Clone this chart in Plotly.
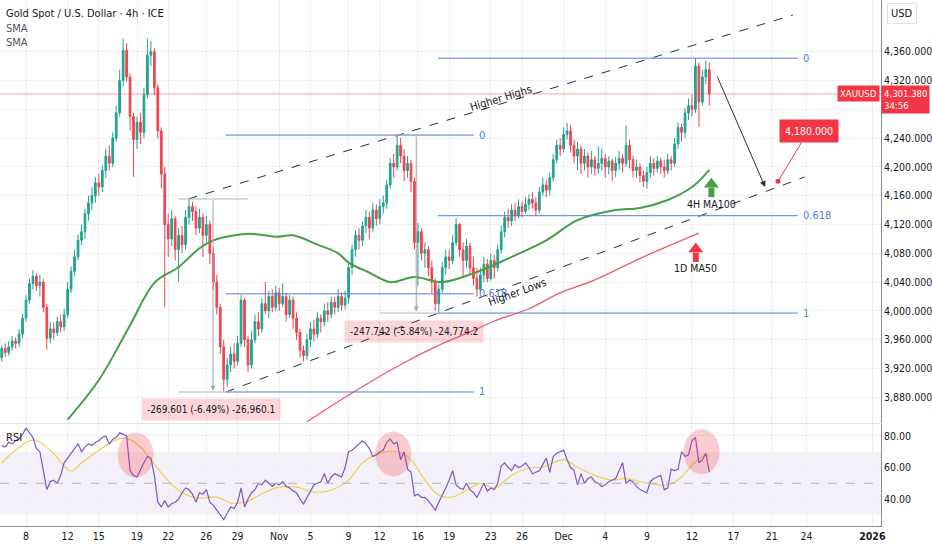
import plotly.graph_objects as go
from plotly.subplots import make_subplots

# ---- XAUUSD 4h candles (x = bar index, weekends removed), open = previous close ----
first_open = 3935
closes = [3948, 3942, 3950, 3958, 3955, 3968, 3990, 4015, 4038, 4048,
          4035, 4040, 4005, 3962, 3975, 3970, 3985, 3978, 3995, 4030,
          4055, 4075, 4098, 4110, 4135, 4150, 4160, 4178, 4172, 4195,
          4215, 4205, 4240, 4275, 4320, 4362, 4325, 4270, 4238, 4262,
          4248, 4300, 4355, 4360, 4310, 4250, 4190, 4120, 4100, 4128,
          4085, 4105, 4092, 4130, 4145, 4138, 4115, 4130, 4105, 4120,
          4080, 4040, 4005, 3950, 3905, 3925, 3940, 3930, 3955, 4015,
          3960, 3925, 3960, 3985, 3975, 4010, 4000, 4020, 4005, 4025,
          4010, 4020, 3995, 4015, 3990, 3970, 3945, 3938, 3960, 3975,
          3968, 3990, 3985, 4000, 3995, 4012, 4005, 4020, 4008, 4018,
          4060, 4085, 4105, 4098, 4118, 4130, 4115, 4140, 4128, 4145,
          4150, 4175, 4205, 4200, 4230, 4215, 4195, 4205, 4180, 4095,
          4110, 4080, 4085, 4060, 4040, 4010, 4030, 4060, 4075, 4070,
          4095, 4120, 4085, 4070, 4090, 4060, 4045, 4030, 4050, 4065,
          4045, 4070, 4060, 4085, 4110, 4130, 4125, 4140, 4132, 4145,
          4138, 4148, 4155, 4150, 4140, 4165, 4175, 4168, 4185, 4210,
          4230, 4225, 4245, 4250, 4230, 4215, 4225, 4205, 4215, 4200,
          4210, 4198, 4205, 4212, 4200, 4208, 4195, 4205, 4212, 4205,
          4230, 4210, 4195, 4200, 4188, 4180, 4192, 4205, 4198, 4208,
          4200, 4195, 4210, 4205, 4232, 4255, 4248, 4275, 4285, 4280,
          4340, 4290, 4325, 4335, 4301.38]
highs = [3952, 3955, 3958, 3965, 3963, 3975, 3996, 4022, 4045, 4057,
         4052, 4050, 4044, 4010, 3985, 3984, 3992, 3995, 4003, 4040,
         4062, 4085, 4106, 4120, 4142, 4160, 4172, 4186, 4190, 4202,
         4225, 4230, 4248, 4285, 4335, 4378, 4372, 4330, 4275, 4270,
         4275, 4310, 4378, 4375, 4365, 4315, 4255, 4200, 4135, 4140,
         4132, 4115, 4118, 4140, 4154, 4152, 4145, 4142, 4135, 4132,
         4125, 4088, 4050, 4010, 3960, 3935, 3950, 3955, 3965, 4022,
         4018, 3965, 3972, 3995, 3998, 4018, 4040, 4028, 4030, 4035,
         4032, 4038, 4025, 4022, 4020, 3998, 3975, 3952, 3968, 3985,
         3988, 3998, 3995, 4010, 4012, 4020, 4020, 4030, 4026, 4028,
         4068, 4092, 4112, 4115, 4124, 4140, 4138, 4150, 4148, 4155,
         4160, 4182, 4212, 4218, 4244, 4240, 4225, 4215, 4210, 4185,
         4122, 4115, 4095, 4090, 4070, 4045, 4038, 4068, 4085, 4085,
         4105, 4129, 4122, 4095, 4100, 4095, 4075, 4060, 4060, 4075,
         4072, 4080, 4078, 4092, 4118, 4138, 4142, 4148, 4150, 4155,
         4152, 4158, 4162, 4165, 4158, 4172, 4185, 4182, 4192, 4218,
         4238, 4240, 4255, 4261, 4258, 4238, 4235, 4230, 4225, 4220,
         4222, 4215, 4228, 4225, 4218, 4215, 4212, 4214, 4222, 4218,
         4258, 4238, 4215, 4210, 4205, 4195, 4200, 4215, 4212, 4215,
         4213, 4210, 4218, 4215, 4240, 4262, 4260, 4282, 4295, 4300,
         4351, 4345, 4335, 4348, 4345]
lows = [3930, 3936, 3938, 3945, 3948, 3950, 3962, 3985, 4010, 4030,
        4028, 4020, 3998, 3946, 3955, 3960, 3965, 3970, 3972, 3990,
        4025, 4048, 4070, 4092, 4100, 4125, 4140, 4150, 4160, 4165,
        4185, 4195, 4200, 4235, 4270, 4312, 4318, 4250, 4186, 4225,
        4232, 4240, 4295, 4340, 4300, 4240, 4170, 4005, 4075, 4090,
        4070, 4040, 4080, 4085, 4120, 4125, 4105, 4108, 4075, 4095,
        4065, 4030, 3995, 3940, 3888, 3895, 3915, 3920, 3925, 3950,
        3950, 3915, 3920, 3955, 3965, 3970, 3995, 3990, 3998, 4000,
        4000, 4005, 3985, 3990, 3975, 3960, 3935, 3930, 3932, 3950,
        3958, 3962, 3970, 3978, 3985, 3990, 3995, 3998, 4000, 4002,
        4010, 4050, 4075, 4085, 4090, 4108, 4100, 4110, 4118, 4120,
        4135, 4142, 4170, 4185, 4195, 4205, 4180, 4185, 4165, 4085,
        4035, 4070, 4060, 4048, 4025, 4000, 3997, 4025, 4050, 4058,
        4065, 4090, 4075, 4048, 4060, 4050, 4035, 4020, 4025, 4040,
        4040, 4042, 4045, 4055, 4080, 4102, 4115, 4118, 4125, 4128,
        4130, 4135, 4140, 4142, 4132, 4135, 4160, 4158, 4160, 4180,
        4205, 4215, 4220, 4238, 4220, 4205, 4195, 4190, 4195, 4185,
        4190, 4188, 4190, 4195, 4185, 4190, 4180, 4186, 4195, 4192,
        4200, 4198, 4185, 4185, 4178, 4172, 4170, 4185, 4188, 4192,
        4190, 4185, 4190, 4195, 4200, 4225, 4235, 4240, 4265, 4270,
        4275, 4255, 4285, 4315, 4285]
opens = [first_open] + closes[:-1]

# RSI(14) per bar and its smoothing MA (sampled)
rsi = [74, 73, 76, 75, 77, 78, 81, 85, 82, 79,
       72, 70, 58, 46, 51, 52, 50, 55, 63, 66,
       69, 72, 75, 70, 73, 75, 74, 76, 77, 79,
       80, 75, 78, 79, 82, 81, 80, 58, 55, 54,
       59, 63, 67, 66, 55, 38, 35, 39, 35, 37,
       38, 40, 44, 47, 46, 43, 38, 44, 43, 46,
       38, 36, 33, 30, 27, 31, 35, 34, 38, 47,
       35, 40, 44, 46, 50, 49, 52, 50, 48, 50,
       49, 51, 48, 47, 45, 44, 40, 37, 41, 45,
       49, 50, 51, 56, 50, 54, 56, 55, 54, 60,
       70, 71, 73, 75, 77, 75, 72, 67, 68, 70,
       71, 76, 78, 75, 76, 65, 70, 59, 57, 42,
       43, 41, 41, 39, 36, 33, 38, 42, 47, 52,
       58, 49, 47, 46, 50, 46, 44, 41, 46, 50,
       45, 47, 46, 50, 61, 63, 60, 58, 62, 60,
       61, 63, 60, 56, 57, 58, 62, 66, 57, 67,
       69, 70, 71, 65, 60, 58, 49, 56, 50, 53,
       54, 51, 50, 48, 49, 51, 52, 53, 58, 63,
       50, 52, 51, 48, 46, 45, 44, 51, 53, 54,
       55, 46, 47, 59, 58, 59, 70, 67, 68, 77,
       79, 63, 65, 69, 57]
rsi_ma_bars = [0, 4, 9, 14, 20, 23, 28, 33, 36, 40, 43, 47, 52, 57, 62, 66, 70, 76, 80, 85,
               90, 95, 100, 104, 109, 114, 118, 122, 126, 130, 133, 138, 142, 147, 152, 156,
               162, 166, 171, 176, 180, 185, 192, 196, 199, 203, 204]
rsi_ma = [63, 71, 77.5, 71, 57.8, 63, 71, 77.5, 78.7, 73, 65, 54, 44, 40.6, 41.3, 37.5, 38, 44.4,
          47.6, 47.6, 44.4, 45.7, 52, 63, 69, 70, 65, 52, 42.5, 41.3, 44.4, 50, 47, 55, 59.7,
          60.3, 65, 60.3, 55, 52, 53, 50.6, 48.9, 54, 61.6, 68, 67]

# moving averages (sampled)
ma100_bars = [19, 28, 37, 44, 51, 57, 61, 66, 72, 79, 84, 91, 97, 100, 106, 112, 119, 127,
              137, 147, 157, 166, 177, 184, 192, 199, 204]
ma100 = [3849, 3904, 3980, 4039, 4061, 4087, 4098, 4104, 4107, 4103, 4105, 4092, 4080, 4067,
         4053, 4040, 4047, 4040, 4054, 4075, 4098, 4126, 4140, 4143, 4154, 4172, 4196]
ma50_bars = [88, 101, 116, 125, 137, 142, 152, 161, 171, 185, 201]
ma50 = [3846, 3886, 3928, 3950, 3975, 3986, 4003, 4025, 4043, 4075, 4108]

# x axis labels (bar index of first bar of the day)
tick_bars = [7, 19, 28, 39, 48, 59, 68, 80, 89, 100, 109, 120, 129, 141, 150, 162, 174, 186,
             199, 211, 222, 232, 251]
tick_labels = ['8', '12', '15', '19', '22', '26', '29', 'Nov', '5', '9', '12', '16', '19',
               '23', '26', 'Dec', '4', '9', '12', '17', '21', '24', '<b>2026</b>']
price_ticks = [3880, 3920, 3960, 4000, 4040, 4080, 4120, 4160, 4200, 4240, 4320, 4360]
hidden_price_ticks = [4280]
rsi_ticks = [40, 60, 80]

last_price = 4301.38
target_bar, target_price = 223.8, 4180

# drawings: channel (bar, price), fib (start, end, level 0, level 1), measures
upper_line = ([53.8, 228.1], [4155.4, 4411])
lower_line = ([64.6, 231.5], [3887.4, 4186])
fibs = [(64.6, 136.1, 4244.2, 3887.4), (125.8, 229.5, 4351, 3997)]
fib_levels = [0, 0.618, 1]
measures = [(60.9, 51, 71, 4155.4, 3887.4, '-269.601 (-6.49%) -26,960.1'),
            (119.5, 109, 126, 4244.2, 3997, '-247.742 (-5.84%) -24,774.2')]
rsi_circles = [(38.6, 67.9), (112.9, 68.6), (201.8, 70)]
# MA callouts: bar, arrow tail, arrow head, label price, text, colour
callouts = [(204.6, 4158, 4176, 4149, '4H MA100', '#43a047'),
            (200.1, 4068, 4086, 4059, '1D MA50', '#f23645')]

FONT = 'Liberation Sans Narrow, DejaVu Sans Condensed, Roboto'
TXT = '#131722'
GRID = '#eef0f4'
BLUE = '#4f7fdc'

fig = make_subplots(rows=2, cols=1, shared_xaxes=True, vertical_spacing=0.002)

bars = list(range(len(closes)))
fig.add_trace(go.Candlestick(x=bars, open=opens, high=highs, low=lows, close=closes,
                             increasing=dict(line=dict(color='#1fa38f', width=1), fillcolor='#1fa38f'),
                             decreasing=dict(line=dict(color='#f2434f', width=1), fillcolor='#f2434f'),
                             whiskerwidth=0, showlegend=False), row=1, col=1)
fig.add_scatter(x=ma100_bars, y=ma100, mode='lines', line=dict(color='#43a047', width=2, shape='spline'),
                showlegend=False, row=1, col=1)
fig.add_scatter(x=ma50_bars, y=ma50, mode='lines', line=dict(color='#ee5b6b', width=1.3, shape='spline'),
                showlegend=False, row=1, col=1)
for xs, ys in (upper_line, lower_line):
    fig.add_scatter(x=xs, y=ys, mode='lines', line=dict(color='#2a2e39', width=1, dash='dash'),
                    showlegend=False, row=1, col=1)
fig.add_scatter(x=[target_bar], y=[target_price], mode='markers', marker=dict(color='#f23645', size=5),
                showlegend=False, row=1, col=1)

# MA callout arrows (shaft + head) and labels
for xb, tail, head, lab_y, lab, col in callouts:
    fig.add_shape(type='line', xref='x', yref='y', x0=xb, x1=xb, y0=tail, y1=head - 5,
                  line=dict(color=col, width=6))
    fig.add_scatter(x=[xb], y=[head], mode='markers', marker=dict(symbol='triangle-up', size=13, color=col),
                    showlegend=False, row=1, col=1)
    fig.add_annotation(x=xb, y=lab_y, xref='x', yref='y', text=lab, showarrow=False,
                       font=dict(color=TXT, size=10.5, family=FONT))

# RSI pane
fig.add_shape(type='rect', xref='x2', yref='y2', x0=-0.5, x1=253.5, y0=30, y1=70,
              fillcolor='rgba(126,87,194,0.09)', line_width=0, layer='below')
fig.add_shape(type='line', xref='x2', yref='y2', x0=-0.5, x1=253.5, y0=50, y1=50,
              line=dict(color='#b2b5be', width=1, dash='dash'))
for cx, cy in rsi_circles:
    fig.add_shape(type='circle', xref='x2', yref='y2', x0=cx - 5.2, x1=cx + 5.2, y0=cy - 14.3, y1=cy + 14.3,
                  fillcolor='rgba(242,54,69,0.25)', line_width=0)
fig.add_scatter(x=rsi_ma_bars, y=rsi_ma, mode='lines', line=dict(color='#f2d04e', width=1.2, shape='spline'),
                showlegend=False, row=2, col=1)
fig.add_scatter(x=bars, y=rsi, mode='lines', line=dict(color='#7e57c2', width=1.2),
                showlegend=False, row=2, col=1)

# last price line
fig.add_shape(type='line', xref='x', yref='y', x0=-0.5, x1=253.5, y0=last_price, y1=last_price,
              line=dict(color='rgba(242,54,69,0.45)', width=1))

# fib retracements
for x0, x1, p0, p1 in fibs:
    for lvl in fib_levels:
        p = p0 + (p1 - p0) * lvl
        fig.add_shape(type='line', xref='x', yref='y', x0=x0, x1=x1, y0=p, y1=p,
                      line=dict(color=BLUE, width=1))
        fig.add_annotation(x=x1 + 1, y=p, xref='x', yref='y', text=f'{lvl:g}', showarrow=False,
                           xanchor='left', font=dict(color=BLUE, size=11, family=FONT))

# measurement tools
for xm, xa, xb, top, bot, label in measures:
    for p in (top, bot):
        fig.add_shape(type='line', xref='x', yref='y', x0=xa, x1=xb, y0=p, y1=p,
                      line=dict(color='#b2b5be', width=1))
    fig.add_annotation(x=xm, y=bot + 2, ax=xm, ay=top, xref='x', yref='y', axref='x', ayref='y',
                       text='', showarrow=True, arrowhead=2, arrowsize=1, arrowwidth=1, arrowcolor='#a3a6af')
    fig.add_annotation(x=xm - 0.5, y=bot, xref='x', yref='y', yshift=-18, text=label, showarrow=False,
                       bgcolor='rgba(242,54,69,0.2)', borderpad=5,
                       font=dict(color=TXT, size=10, family=FONT))

# channel labels
fig.add_annotation(x=143.8, y=4295, xref='x', yref='y', text='Higher Highs', textangle=-17, showarrow=False,
                   font=dict(color=TXT, size=11, family=FONT))
fig.add_annotation(x=148.6, y=4026, xref='x', yref='y', text='Higher Lows', textangle=-20, showarrow=False,
                   font=dict(color=TXT, size=11, family=FONT))

# projection arrow and target
fig.add_annotation(x=220.1, y=4172, ax=206.1, ay=4327.6, xref='x', yref='y', axref='x', ayref='y',
                   text='', showarrow=True, arrowhead=2, arrowsize=1.2, arrowwidth=1, arrowcolor='#2a2e39')
fig.add_annotation(x=target_bar, y=target_price, ax=232.6, ay=4250, xref='x', yref='y', axref='x', ayref='y',
                   text=f'{target_price:,.3f}', showarrow=True, arrowhead=0, arrowwidth=1, arrowcolor='#f23645',
                   bgcolor='#f23645', borderpad=5, font=dict(color='white', size=10.5, family=FONT))

# header and axis labels
for i, (txt, col) in enumerate([('Gold Spot / U.S. Dollar · 4h · ICE', TXT), ('SMA', '#50535e'), ('SMA', '#50535e')]):
    fig.add_annotation(x=0.005, y=0.9734 - i * 0.0275, xref='paper', yref='paper', text=txt, showarrow=False,
                       xanchor='left', yanchor='middle', font=dict(color=col, size=11, family=FONT))
fig.add_annotation(x=0.005, y=0.169, xref='paper', yref='paper', text='RSI', showarrow=False,
                   xanchor='left', yanchor='middle', font=dict(color=TXT, size=11, family=FONT))
fig.add_annotation(x=1.007, y=0.9734, xref='paper', yref='paper', text='USD', showarrow=False,
                   xanchor='left', yanchor='middle', font=dict(color=TXT, size=11, family=FONT),
                   bordercolor='#e0e3eb', borderwidth=1, borderpad=3)
fig.add_annotation(x=0.999, y=last_price, xref='paper', yref='y', text='XAUUSD', showarrow=False,
                   xanchor='right', bgcolor='#f23645', borderpad=2, font=dict(color='white', size=9.5, family=FONT))
fig.add_annotation(x=1.0, y=last_price, xref='paper', yref='y', yanchor='top', yshift=9,
                   text=f'{last_price:,.3f}<br>34:56', align='left', showarrow=False, xanchor='left',
                   bgcolor='#f23645', borderpad=2, font=dict(color='white', size=9.5, family=FONT))

axis_common = dict(showgrid=True, gridcolor=GRID, zeroline=False, tickfont=dict(color=TXT, size=10.5, family=FONT))
fig.update_xaxes(range=[-0.5, 253.5], tickvals=tick_bars, ticktext=tick_labels, rangeslider_visible=False,
                 **axis_common)
fig.update_xaxes(showline=True, linecolor='#e0e3eb', row=1, col=1)
fig.update_xaxes(showline=True, linecolor='#8a8d96', ticks='', row=2, col=1)
fig.update_yaxes(side='right', showline=True, linecolor='#8a8d96', ticks='', **axis_common)
fig.update_yaxes(range=[3844.3, 4431.8], tickvals=price_ticks, tickformat=',.3f', domain=[0.1958, 1],
                 minor=dict(tickvals=hidden_price_ticks, showgrid=True, gridcolor=GRID), row=1, col=1)
fig.update_yaxes(range=[22.9, 87.6], tickvals=rsi_ticks, tickformat='.2f', domain=[0, 0.1939], row=2, col=1)

fig.update_layout(width=932, height=550, margin=dict(l=0, r=43, t=0, b=24),
                  paper_bgcolor='white', plot_bgcolor='white', showlegend=False,
                  font=dict(family=FONT, color=TXT))

# page body has a default 8px margin; remove it so the figure sits at the window's corner
fig.write_html('out.html', config={'displayModeBar': False},
               post_script="document.body.style.margin='0';")
